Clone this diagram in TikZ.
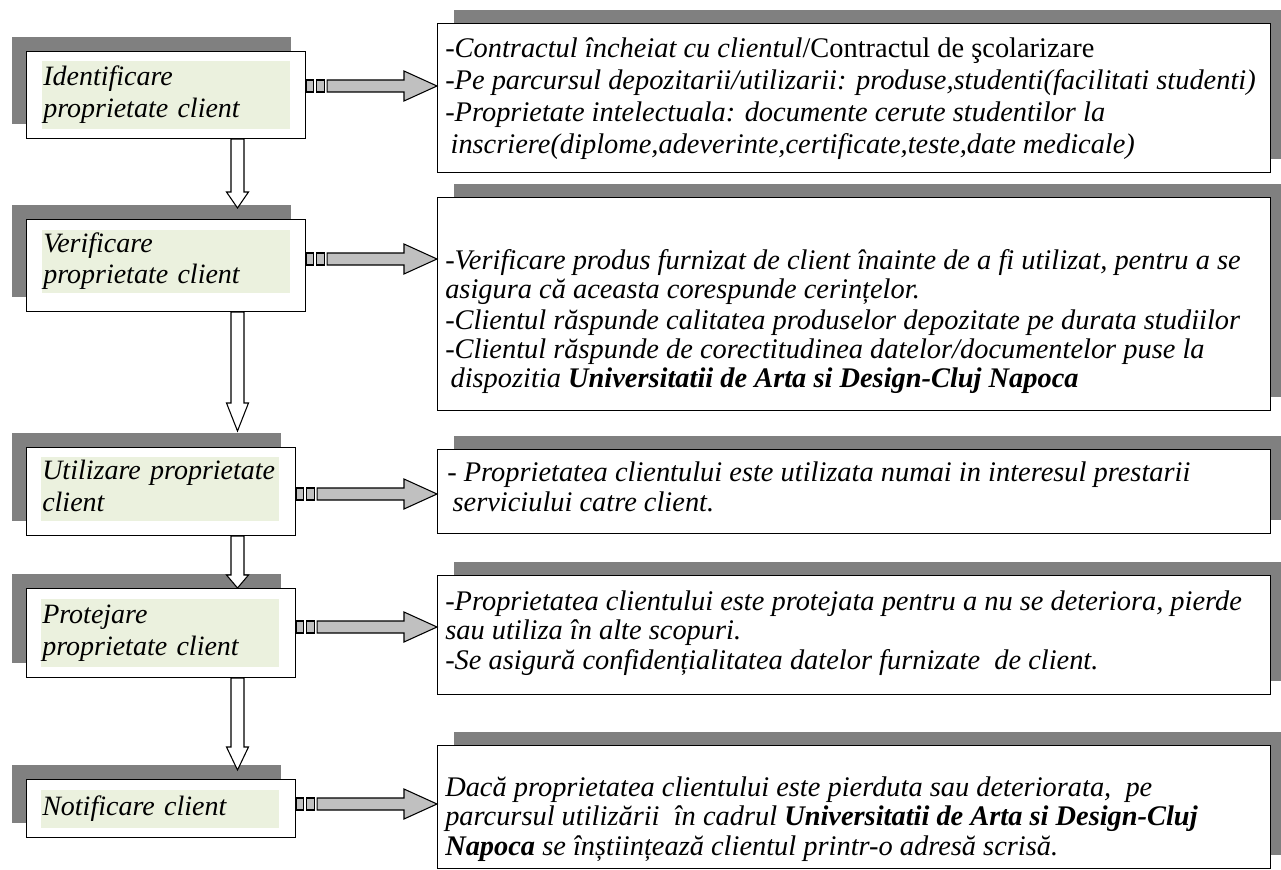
\documentclass[tikz,border=0pt]{standalone}
\usepackage{fontspec}
\setmainfont{Liberation Serif}
\usetikzlibrary{calc,shadows}

\definecolor{shadowgray}{HTML}{808080}
\definecolor{arrowgray}{HTML}{C0C0C0}
\definecolor{labelgreen}{HTML}{EBF1DE}

\tikzset{
  boxdim/.style 2 args={minimum width=#1*0.75pt, minimum height=#2*0.75pt},
  stepbox/.style={draw=black, fill=white, line width=0.8pt, inner sep=0pt, anchor=north west,
    drop shadow={shadow xshift=-11.25pt, shadow yshift=11.25pt, opacity=1, fill=shadowgray}},
  notebox/.style={draw=black, fill=white, line width=0.8pt, inner sep=0pt, anchor=north west,
    drop shadow={shadow xshift=12pt, shadow yshift=10.5pt, opacity=1, fill=shadowgray}},
  steplabel/.style={fill=labelgreen, inner xsep=0.75pt, inner ysep=0pt, anchor=north west,
    align=left, font=\fontsize{21}{23.5}\selectfont\itshape},
  notetext/.style={inner sep=0pt, anchor=west, align=left,
    font=\fontsize{21.3}{#1}\selectfont\itshape},
  sidearrow/.style={fill=arrowgray, draw=black, line width=0.8pt, line join=miter},
  downarrow/.style={fill=white, draw=black, line width=0.8pt, line join=miter},
}

% striped block arrow from a box edge to the tip point
\newcommand\stripedlink[2]{%
  \path[sidearrow] ($(#1)+(0,-6)$) rectangle ($(#1)+(7,6)$);
  \path[sidearrow] ($(#1)+(10,-6)$) rectangle ($(#1)+(18,6)$);
  \path[sidearrow] ($(#1)+(21,-6)$) -- ($(#2)+(-33,-6)$) -- ($(#2)+(-33,-15)$) -- (#2)
    -- ($(#2)+(-33,15)$) -- ($(#2)+(-33,6)$) -- ($(#1)+(21,6)$) -- cycle;
}
% hollow block arrow pointing down: start, tip, head length
\newcommand\flowdown[3]{%
  \path[downarrow] ($(#1)+(-6.5,0)$) -- ($(#2)+(-6.5,-#3)$) -- ($(#2)+(-11,-#3)$) -- (#2)
    -- ($(#2)+(11,-#3)$) -- ($(#2)+(6.5,-#3)$) -- ($(#1)+(6.5,0)$) -- cycle;
}

\begin{document}
\begin{tikzpicture}[x=0.75pt, y=-0.75pt]
\useasboundingbox (0,0) rectangle (1281,870);
\clip (0,0) rectangle (1281,870);

% process steps
\node[stepbox, boxdim={279}{87}] (L1) at (26,51) {};
\node[stepbox, boxdim={279}{92}] (L2) at (26,219) {};
\node[stepbox, boxdim={269}{88}] (L3) at (26,447) {};
\node[stepbox, boxdim={269}{89}] (L4) at (26,588) {};
\node[stepbox, boxdim={269}{58}] (L5) at (26,779) {};

\node[steplabel, boxdim={248}{68}, text width=184.5pt] (T1) at (42,61)
  {\strut Identificare\\\strut proprietate client};
\node[steplabel, boxdim={248}{63}, text width=184.5pt] (T2) at (42,230)
  {\strut Verificare\\\strut proprietate client};
\node[steplabel, boxdim={238}{64}, text width=177pt] (T3) at (41,457)
  {\strut Utilizare proprietate\\\strut client};
\node[steplabel, boxdim={238}{68}, text width=177pt] (T4) at (41,599)
  {\strut Protejare\\\strut proprietate client};
\node[steplabel, boxdim={238}{38}, text width=177pt] (T5) at (41,790)
  {\strut Notificare client};

% description boxes
\node[notebox, boxdim={833}{149}] (R1) at (437,23) {};
\node[notebox, boxdim={833}{213}] (R2) at (437,197) {};
\node[notebox, boxdim={833}{84}] (R3) at (437,449) {};
\node[notebox, boxdim={833}{119}] (R4) at (437,575) {};
\node[notebox, boxdim={833}{123}] (R5) at (437,745) {};

\node[notetext={24pt}] (N1) at (445,99) {%
  \strut-Contractul încheiat cu clientul{\upshape/Contractul de şcolarizare}\\
  -Pe parcursul depozitarii/utilizarii: produse,studenti(facilitati studenti)\\
  -Proprietate intelectuala: documente cerute studentilor la\\
  \hspace*{4pt}inscriere(diplome,adeverinte,certificate,teste,date medicale)\strut};

\node[notetext={21.75pt}] (N2) at (445,322.5) {%
  \strut-Verificare produs furnizat de client înainte de a fi utilizat, pentru a se\\
  asigura că aceasta corespunde cerințelor.\\[1.5pt]
  -Clientul răspunde calitatea produselor depozitate pe durata studiilor\\
  -Clientul răspunde de corectitudinea datelor/documentelor puse la\\
  \hspace*{4pt}dispozitia \textbf{Universitatii de Arta si Design-Cluj Napoca}\strut};

\node[notetext={21pt}] (N3) at (447,491) {%
  \strut- Proprietatea clientului este utilizata numai in interesul prestarii\\
  \hspace*{4pt}serviciului catre client.\strut};

\node[notetext={22pt}] (N4) at (445,634) {%
  \strut-Proprietatea clientului este protejata pentru a nu se deteriora, pierde\\
  sau utiliza în alte scopuri.\\
  -Se asigură confidențialitatea datelor furnizate\ \ de client.\strut};

\node[notetext={22pt}] (N5) at (445,820) {%
  \strut Dacă proprietatea clientului este pierduta sau deteriorata,\ \ pe\\
  parcursul utilizării\ \ în cadrul \textbf{Universitatii de Arta si Design-Cluj}\\
  \textbf{Napoca} se înștiințează clientul printr-o adresă scrisă.\strut};

% links from each step to its description
\coordinate (s1) at (L1.east |- 0,86);   \coordinate (e1) at (R1.west |- 0,86);
\coordinate (s2) at (L2.east |- 0,259);  \coordinate (e2) at (R2.west |- 0,259);
\coordinate (s3) at (L3.east |- 0,494);  \coordinate (e3) at (R3.west |- 0,494);
\coordinate (s4) at (L4.east |- 0,627);  \coordinate (e4) at (R4.west |- 0,627);
\coordinate (s5) at (L5.east |- 0,804);  \coordinate (e5) at (R5.west |- 0,804);
\stripedlink{s1}{e1}
\stripedlink{s2}{e2}
\stripedlink{s3}{e3}
\stripedlink{s4}{e4}
\stripedlink{s5}{e5}

% flow between steps
\coordinate (d1) at (237.5,0 |- L1.south);  \coordinate (f1) at (237.5,208);
\coordinate (d2) at (237.5,0 |- L2.south);  \coordinate (f2) at (237.5,431);
\coordinate (d3) at (237.5,0 |- L3.south);  \coordinate (f3) at (237.5,588);
\coordinate (d4) at (237.5,0 |- L4.south);  \coordinate (f4) at (237.5,770);
\flowdown{d1}{f1}{16}
\flowdown{d2}{f2}{28}
\flowdown{d3}{f3}{13}
\flowdown{d4}{f4}{23}
\end{tikzpicture}
\end{document}
